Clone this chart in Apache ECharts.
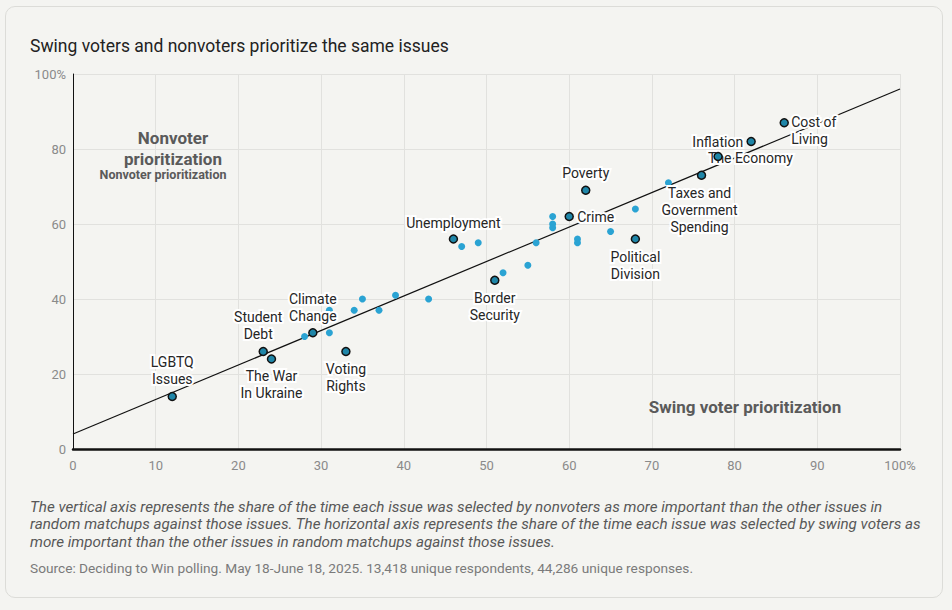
<!DOCTYPE html>
<html>
<head>
<meta charset="utf-8">
<script src="https://cdn.jsdelivr.net/npm/echarts@6/dist/echarts.min.js"></script>
<style>
  html, body { margin: 0; padding: 0; background: #f4f4f1; }
  #card {
    position: absolute; left: 5px; top: 6px; width: 938px; height: 592px;
    border: 1px solid #dcdcd8; border-radius: 10px; background: #f4f4f1;
    box-sizing: border-box;
  }
  #chart { position: absolute; left: 0; top: 0; width: 952px; height: 610px; }
</style>
</head>
<body>
<div id="card"></div>
<div id="chart"></div>
<script>
  // issues shown with a name
  const labeledNames = ['LGBTQ\nIssues', 'Student\nDebt', 'The War\nIn Ukraine', 'Climate\nChange', 'Voting\nRights',
    'Unemployment', 'Border\nSecurity', 'Poverty', 'Crime', 'Political\nDivision',
    'Taxes and\nGovernment\nSpending', 'The Economy', 'Inflation', 'Cost of\nLiving'];
  const labeledSwing = [12, 23, 24, 29, 33, 46, 51, 62, 60, 68, 76, 78, 82, 86];
  const labeledNon = [14, 26, 24, 31, 26, 56, 45, 69, 62, 56, 73, 78, 82, 87];

  // other issues (no label)
  const otherSwing = [28, 31, 31, 34, 35, 37, 39, 43, 47, 49, 52, 55, 56, 58, 58, 58, 61, 61, 65, 68, 72];
  const otherNon = [30, 31, 37, 37, 40, 37, 41, 40, 54, 55, 47, 49, 55, 62, 60, 59, 56, 55, 58, 64, 71];

  // fitted line end points
  const trendSwing = [0, 100];
  const trendNon = [4, 96];

  // label placement per issue (style only)
  const labelPlace = {
    'LGBTQ\nIssues': { position: 'top', distance: 5, align: 'center' },
    'Student\nDebt': { position: 'top', distance: 5, align: 'center', offset: [-5, 0] },
    'The War\nIn Ukraine': { position: 'bottom', distance: 4, align: 'center' },
    'Climate\nChange': { position: 'top', distance: 4, align: 'center' },
    'Voting\nRights': { position: 'bottom', distance: 5, align: 'center' },
    'Unemployment': { position: 'top', distance: 4, align: 'center' },
    'Border\nSecurity': { position: 'bottom', distance: 5, align: 'center' },
    'Poverty': { position: 'top', distance: 5, align: 'center' },
    'Crime': { position: 'right', distance: 4, align: 'left' },
    'Political\nDivision': { position: 'bottom', distance: 5, align: 'center' },
    'Taxes and\nGovernment\nSpending': { position: 'bottom', distance: 5, align: 'center', offset: [-2, 0] },
    'The Economy': { position: 'right', distance: 4, align: 'left', offset: [-18, 1] },
    'Inflation': { position: 'left', distance: 4, align: 'right' },
    'Cost of\nLiving': { position: 'right', distance: 3, align: 'left', offset: [0, 8] }
  };

  const chart = echarts.init(document.getElementById('chart'), null, { renderer: 'svg' });

  const labeledPoints = labeledNames.map((n, i) => [labeledSwing[i], labeledNon[i]]);
  const labelData = labeledNames.map((n, i) => ({
    name: n,
    value: [labeledSwing[i], labeledNon[i]],
    label: Object.assign({ show: true }, labelPlace[n])
  }));
  const otherData = otherSwing.map((x, i) => [x, otherNon[i]]);

  const pctFmt = v => (v === 100 ? '100%' : String(v));

  const option = {
    backgroundColor: 'transparent',
    textStyle: { fontFamily: 'Roboto' },
    title: {
      text: 'Swing voters and nonvoters prioritize the same issues',
      left: 25, top: 32,
      textStyle: { fontSize: 17.5, fontWeight: 'normal', color: '#222', fontFamily: 'Roboto' }
    },
    grid: { left: 73, right: 52, top: 74, bottom: 161 },
    xAxis: {
      type: 'value', min: 0, max: 100, interval: 10,
      axisLine: { show: true, onZero: false, lineStyle: { color: '#111', width: 2.5 } },
      axisTick: { show: false },
      axisLabel: { color: '#8a8a8a', fontSize: 13, margin: 10, formatter: pctFmt },
      splitLine: { show: true, lineStyle: { color: '#e1e1de', width: 1 } }
    },
    yAxis: {
      type: 'value', min: 0, max: 100, interval: 20,
      axisLine: { show: true, onZero: false, lineStyle: { color: '#111', width: 1 } },
      axisTick: { show: false },
      axisLabel: { color: '#8a8a8a', fontSize: 13, margin: 7, formatter: pctFmt },
      splitLine: { show: true, lineStyle: { color: '#e1e1de', width: 1 } }
    },
    series: [
      {
        type: 'line', z: 1,
        data: trendSwing.map((x, i) => [x, trendNon[i]]),
        symbol: 'none', silent: true,
        lineStyle: { color: '#111', width: 1.2 }
      },
      {
        type: 'scatter', z: 2,
        data: otherData,
        symbolSize: 7,
        itemStyle: { color: '#2aa3d3', opacity: 1 }
      },
      // names of the labeled issues (drawn under the dots)
      {
        type: 'scatter', z: 3, silent: true,
        data: labelData,
        symbolSize: 8,
        itemStyle: { color: 'transparent', borderWidth: 0, opacity: 1 },
        label: {
          show: true,
          formatter: p => p.name,
          color: '#262626', fontSize: 14, lineHeight: 17,
          fontFamily: 'Roboto', opacity: 1,
          textBorderColor: '#ffffff', textBorderWidth: 4
        }
      },
      {
        type: 'scatter', z: 4,
        data: labeledPoints,
        symbolSize: 8,
        itemStyle: { color: '#1f86a8', borderColor: '#111', borderWidth: 1.5, opacity: 1 }
      }
    ],
    graphic: [
      {
        type: 'text', x: 173, y: 127, z: 10,
        style: {
          text: 'Nonvoter\nprioritization', align: 'center',
          font: 'bold 17px Roboto', fill: '#5a5a5a', lineHeight: 21
        }
      },
      {
        type: 'text', x: 163, y: 168, z: 10,
        style: { text: 'Nonvoter prioritization', align: 'center', font: 'bold 12.5px Roboto', fill: '#5a5a5a' }
      },
      {
        type: 'text', x: 745, y: 398, z: 10,
        style: { text: 'Swing voter prioritization', align: 'center', font: 'bold 17px Roboto', fill: '#5a5a5a' }
      },
      {
        type: 'text', x: 30, y: 498, z: 10,
        style: {
          text: 'The vertical axis represents the share of the time each issue was selected by nonvoters as more important than the other issues in\n' +
            'random matchups against those issues. The horizontal axis represents the share of the time each issue was selected by swing voters as\n' +
            'more important than the other issues in random matchups against those issues.',
          font: 'italic 15.2px Roboto', fill: '#585858', lineHeight: 17.5
        }
      },
      {
        type: 'text', x: 30, y: 561, z: 10,
        style: {
          text: 'Source: Deciding to Win polling. May 18-June 18, 2025. 13,418 unique respondents, 44,286 unique responses.',
          font: '13.7px Roboto', fill: '#7a7a7a'
        }
      }
    ]
  };

  chart.setOption(option);

  window.addEventListener('resize', () => {
    chart.resize();
  });
</script>
</body>
</html>
